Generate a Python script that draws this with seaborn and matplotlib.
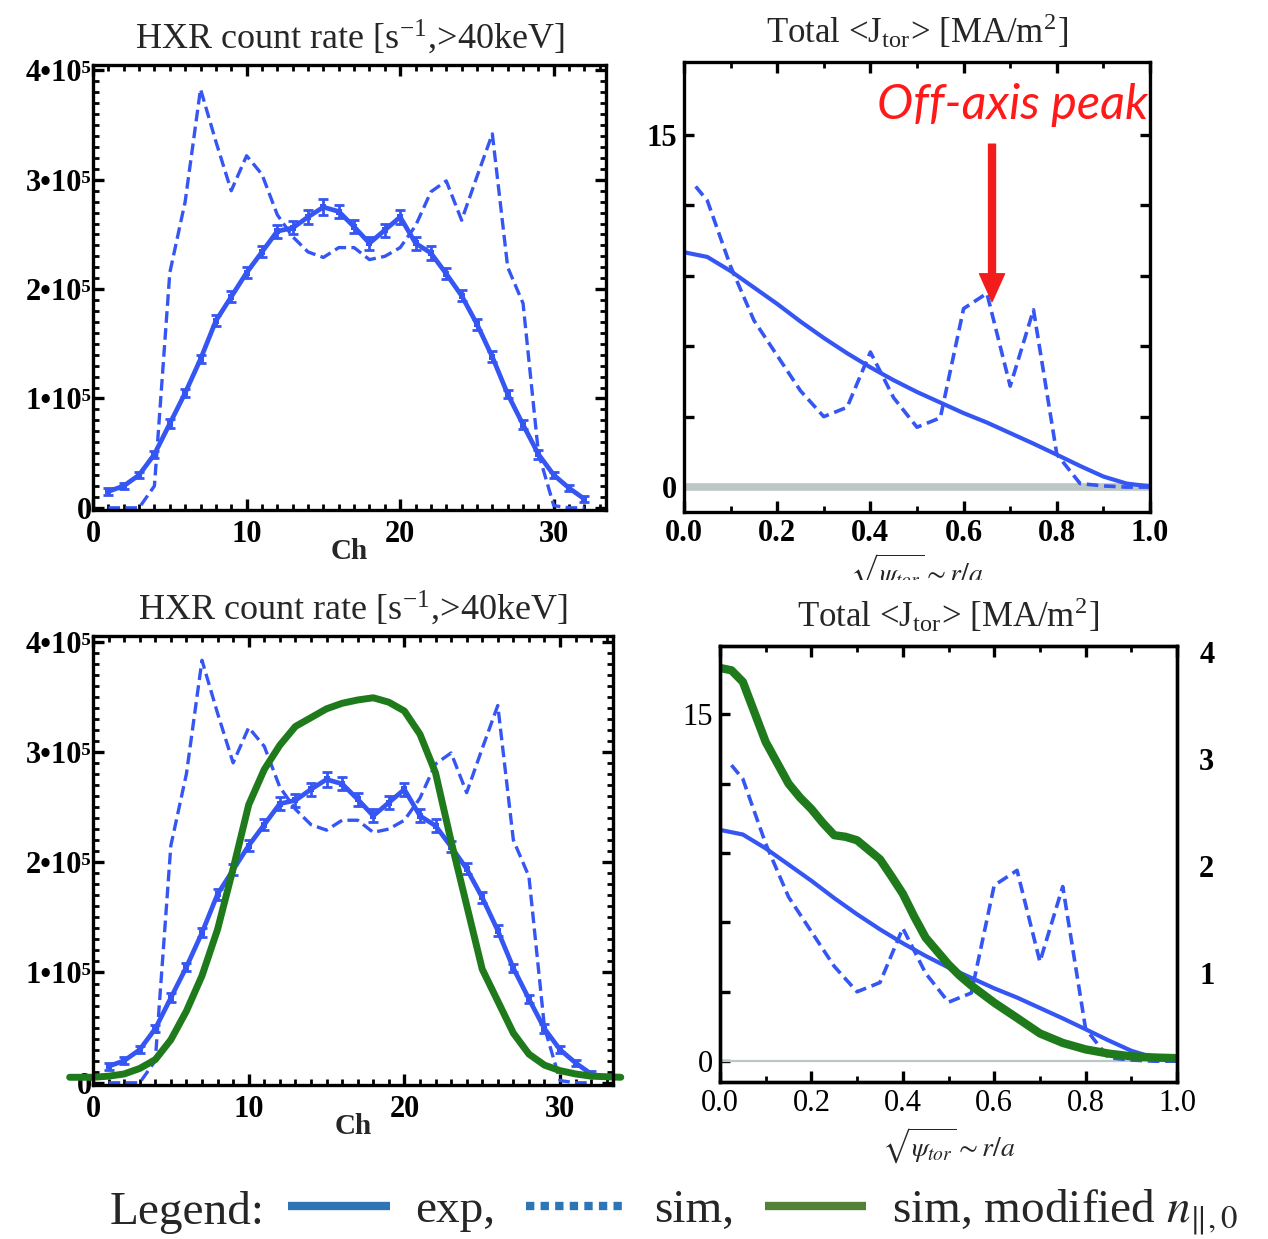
import numpy as np
import pandas as pd
import matplotlib
matplotlib.use("Agg")
import matplotlib.pyplot as plt
import seaborn as sns
from matplotlib.lines import Line2D
from matplotlib.ticker import MultipleLocator, FixedLocator
from matplotlib.transforms import Bbox, TransformedBbox

# ---------------- data ----------------
channels = list(range(1, 33))
hxr_exp = [0.15, 0.20, 0.30, 0.49, 0.77, 1.05, 1.36, 1.71, 1.93, 2.15, 2.34, 2.53, 2.56, 2.66, 2.75, 2.71,
           2.57, 2.42, 2.54, 2.66, 2.42, 2.33, 2.14, 1.94, 1.68, 1.38, 1.04, 0.76, 0.49, 0.30, 0.18, 0.08]
hxr_exp_err = [0.03, 0.03, 0.03, 0.03, 0.04, 0.04, 0.04, 0.05, 0.05, 0.05, 0.05, 0.06, 0.06, 0.06, 0.07, 0.06,
               0.06, 0.06, 0.06, 0.06, 0.06, 0.06, 0.05, 0.05, 0.05, 0.05, 0.04, 0.04, 0.04, 0.03, 0.03, 0.03]
hxr_sim = [0.0, 0.0, 0.0, 0.2, 2.15, 2.8, 3.83, 3.35, 2.9, 3.22, 3.05, 2.68, 2.48, 2.34, 2.29, 2.38,
           2.38, 2.27, 2.30, 2.38, 2.58, 2.89, 2.99, 2.63, 3.03, 3.42, 2.2, 1.87, 0.5, 0.02, 0.0, 0.0]
mod_channels = [-1.5, 0, 1, 2, 3, 4, 5, 6, 7, 8, 9, 10, 11, 12, 13, 14, 15, 16, 17, 18, 19, 20,
                21, 22, 23, 24, 25, 26, 27, 28, 29, 30, 31, 32, 33.9]
hxr_sim_mod = [0.05, 0.05, 0.06, 0.08, 0.13, 0.21, 0.39, 0.65, 0.97, 1.39, 1.94, 2.52, 2.84, 3.06, 3.23,
               3.31, 3.39, 3.44, 3.47, 3.49, 3.45, 3.37, 3.16, 2.81, 2.19, 1.61, 1.03, 0.74, 0.45, 0.26,
               0.16, 0.11, 0.08, 0.06, 0.05]

rho_exp = [0.0, 0.05, 0.1, 0.15, 0.2, 0.25, 0.3, 0.35, 0.4, 0.45, 0.5, 0.55, 0.6, 0.65, 0.7, 0.75,
           0.8, 0.85, 0.9, 0.95, 1.0]
j_exp = [10.0, 9.8, 9.2, 8.5, 7.8, 7.05, 6.35, 5.7, 5.1, 4.55, 4.05, 3.6, 3.15, 2.75, 2.3, 1.85,
         1.38, 0.9, 0.45, 0.15, 0.03]
rho_sim = [0.025, 0.05, 0.1, 0.15, 0.2, 0.25, 0.3, 0.35, 0.4, 0.45, 0.5, 0.55, 0.6, 0.65, 0.7, 0.75,
           0.8, 0.85, 0.9, 0.95, 1.0]
j_sim = [12.8, 12.2, 9.4, 7.1, 5.6, 4.1, 3.0, 3.4, 5.75, 3.8, 2.55, 2.95, 7.6, 8.25, 4.3, 7.55,
         1.4, 0.15, 0.05, 0.0, 0.0]
rho_mod = [0.0, 0.025, 0.05, 0.075, 0.1, 0.125, 0.15, 0.175, 0.2, 0.225, 0.25, 0.275, 0.3, 0.325,
           0.35, 0.375, 0.4, 0.425, 0.45, 0.475, 0.5, 0.525, 0.55, 0.6, 0.65, 0.7, 0.75, 0.8, 0.85,
           0.9, 0.95, 1.0]
j_mod = [17.0, 16.9, 16.4, 15.1, 13.8, 12.9, 12.0, 11.4, 10.9, 10.3, 9.77, 9.7, 9.55, 9.14, 8.73,
         8.0, 7.24, 6.25, 5.34, 4.76, 4.18, 3.69, 3.27, 2.53, 1.87, 1.2, 0.79, 0.51, 0.33, 0.21,
         0.16, 0.13]

hxr_yticks = [0, 1, 2, 3, 4]
hxr_yticklabels = ["0", "1\u202210\u2075", "2\u202210\u2075", "3\u202210\u2075", "4\u202210\u2075"]
hxr_xticks = [0, 10, 20, 30]
j_yticks = [0, 3, 6, 9, 12, 15]
j_yticklabels = ["0", "", "", "", "", "15"]
j_xticks = [0.0, 0.2, 0.4, 0.6, 0.8, 1.0]
right_ticks = [1, 2, 3, 4]

# ---------------- style ----------------
sns.set_theme(style="ticks")
plt.rcParams.update({
    "font.family": ["Liberation Serif", "DejaVu Serif"],
    "mathtext.fontset": "stix",
    "xtick.direction": "in", "ytick.direction": "in",
    "xtick.top": True, "ytick.right": True,
    "axes.edgecolor": "black", "axes.linewidth": 2.4,
    "xtick.color": "black", "ytick.color": "black",
    "axes.facecolor": "white", "figure.facecolor": "white",
})

BLUE = "#3556f2"
GREEN = "#1f7a1c"
GRAY = "#bcc8c6"
SER = ["Liberation Serif", "DejaVu Serif"]

fig = plt.figure(figsize=(12.68, 12.39), dpi=100)
W, H = 1268.0, 1239.0


def add_ax(x0, x1, y0, y1):
    return fig.add_axes([x0 / W, (H - y1) / H, (x1 - x0) / W, (y1 - y0) / H])


def style_ticks(ax, bold=True, size=22):
    ax.tick_params(which="major", length=8, width=2.4, direction="in", top=True, right=True,
                   labelsize=size, pad=5)
    ax.tick_params(which="minor", length=4.5, width=2.0, direction="in", top=True, right=True)
    for lab in ax.get_xticklabels() + ax.get_yticklabels():
        lab.set_family(SER)
        lab.set_fontweight("bold" if bold else "normal")


def hxr_panel(ax, green=False):
    sns.lineplot(x=channels, y=hxr_sim, ax=ax, color=BLUE, lw=2.4, linestyle=(0, (3.5, 1.6)))
    sns.lineplot(x=channels, y=hxr_exp, ax=ax, color=BLUE, lw=3.4, marker="s", markersize=4,
                 markeredgewidth=0)
    ax.errorbar(channels, hxr_exp, yerr=hxr_exp_err, fmt="none", ecolor=BLUE, elinewidth=2,
                capsize=3.5, capthick=2)
    if green:
        ln = sns.lineplot(x=mod_channels, y=hxr_sim_mod, ax=ax, color=GREEN, lw=5)
        ln.lines[-1].set_clip_on(False)
    ax.set_xlim(0, 33.4)
    ax.set_ylim(-0.02, 4.05)
    ax.xaxis.set_major_locator(FixedLocator(hxr_xticks))
    ax.xaxis.set_minor_locator(MultipleLocator(1))
    ax.yaxis.set_major_locator(FixedLocator(hxr_yticks))
    ax.yaxis.set_minor_locator(MultipleLocator(0.1))
    ax.set_yticklabels(hxr_yticklabels)
    ax.set_xticklabels([str(t) for t in hxr_xticks])
    style_ticks(ax, bold=True, size=22)
    ax.tick_params(axis="y", pad=1)
    ax.tick_params(axis="x", pad=7)
    ax.set_xlabel("Ch", fontsize=21, fontweight="bold", family=SER, labelpad=-8)
    ax.set_ylabel("")
    ax.set_title("HXR count rate [s$^{\\mathregular{-1}}$,>40keV]", fontsize=26, family=SER, pad=12)


def j_panel(ax, green=False, gray_lw=5.0, bold=True):
    ax.axhline(0, color=GRAY, lw=gray_lw, zorder=1)
    sns.lineplot(x=rho_sim, y=j_sim, ax=ax, color=BLUE, lw=2.6, linestyle=(0, (3.2, 1.6)))
    sns.lineplot(x=rho_exp, y=j_exp, ax=ax, color=BLUE, lw=3.0)
    if green:
        sns.lineplot(x=rho_mod, y=j_mod, ax=ax, color=GREEN, lw=6)
    ax.set_xlim(0, 1.0)
    ax.xaxis.set_major_locator(FixedLocator(j_xticks))
    ax.xaxis.set_minor_locator(MultipleLocator(0.1))
    ax.yaxis.set_major_locator(FixedLocator(j_yticks))
    ax.set_yticklabels(j_yticklabels)
    ax.set_xticklabels([f"{t:.1f}" for t in j_xticks])
    style_ticks(ax, bold=bold, size=22)
    ax.tick_params(axis="y", which="major", length=7)
    ax.set_ylabel("")
    ax.set_title("Total <J$_{\\mathregular{tor}}$> [MA/m$^{\\mathregular{2}}$]", fontsize=25,
                 family=SER, pad=14)


# ---------------- top-left ----------------
ax1 = add_ax(93, 606, 65, 510)
hxr_panel(ax1)

# ---------------- top-right ----------------
ax2 = add_ax(684, 1150, 62, 512)
j_panel(ax2, gray_lw=5.5, bold=True)
ax2.set_ylim(-1.06, 18.1)
xl = ax2.set_xlabel(r"$\sqrt{\psi_{tor}}\sim r/a$", fontsize=20, labelpad=3)
clip = TransformedBbox(Bbox([[0, (H - 580) / H], [1, 1]]), fig.transFigure)
xl.set_clip_box(clip)
xl.set_clip_on(True)
ax2.annotate("", xy=(0.661, 7.9), xytext=(0.661, 14.6),
             arrowprops=dict(color="#f21c1c", width=5, headwidth=18, headlength=20, shrink=0))
ax2.text(0.995, 16.25, "Off-axis peak", color="#ff1a1a", fontsize=35, style="italic",
         family=["Lato", "DejaVu Sans"], fontweight="normal", ha="right", va="center")

# ---------------- bottom-left ----------------
ax3 = add_ax(93, 613, 636, 1085)
hxr_panel(ax3, green=True)

# ---------------- bottom-right ----------------
ax4 = add_ax(720, 1177, 646, 1082)
j_panel(ax4, green=True, gray_lw=1.6, bold=False)
ax4.set_ylim(-0.9, 17.95)
ax4.set_xlabel(r"$\sqrt{\psi_{tor}}\sim r/a$", fontsize=20, labelpad=6)
ax4t = ax4.twinx()
ax4t.set_ylim(-0.02, 4.06)
ax4t.yaxis.set_major_locator(FixedLocator(right_ticks))
ax4t.set_yticklabels([str(t) for t in right_ticks])
ax4t.tick_params(axis="y", length=0, pad=16, labelsize=22)
for lab in ax4t.get_yticklabels():
    lab.set_family(SER)
    lab.set_fontweight("bold")

# ---------------- legend ----------------
fig.text(110 / W, (H - 1212) / H, "Legend:", fontsize=34, family=SER, ha="left", va="center")
handles = [
    Line2D([], [], color="#2e75b6", lw=6, solid_capstyle="butt"),
    Line2D([], [], color="#2e75b6", lw=6, linestyle=(0, (1.0, 0.75)), dash_capstyle="butt"),
    Line2D([], [], color="#548235", lw=6, solid_capstyle="butt"),
]
labels = ["exp,", "sim,", "sim, modified $n_{\\|,0}$"]
fig.legend(handles, labels, loc="center left", bbox_to_anchor=(288 / W, (H - 1212) / H),
           ncol=3, frameon=False, handlelength=2.15, handletextpad=0.55, columnspacing=0.65,
           prop={"family": SER, "size": 34}, borderpad=0, borderaxespad=0)

fig.savefig("out.png", dpi=100)
